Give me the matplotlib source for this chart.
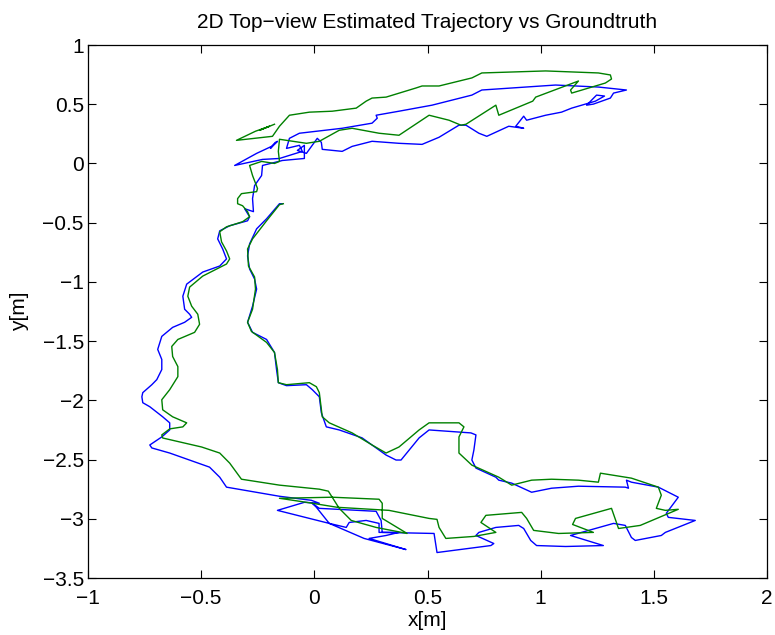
import numpy as np
import matplotlib
matplotlib.use('Agg')
import matplotlib.pyplot as plt

######################################
# groundtruth trajectory (green)
gt_x = [-0.176, -0.242, -0.198, -0.260, -0.344, -0.264, -0.185, -0.154, -0.110, -0.022,
        0.079, 0.185, 0.229, 0.255, 0.317, 0.449, 0.476, 0.551, 0.696, 0.740,
        1.022, 1.255, 1.308, 1.313, 1.286, 1.137, 1.132, 1.167, 0.978, 0.965,
        0.815, 0.802, 0.670, 0.648, 0.595, 0.507, 0.374, 0.286, 0.167, 0.110,
        0.022, -0.035, -0.154, -0.159, -0.154, -0.176, -0.233, -0.286, -0.273, -0.251,
        -0.255, -0.322, -0.339, -0.339, -0.317, -0.295, -0.286, -0.317, -0.388, -0.418,
        -0.410, -0.388, -0.374, -0.388, -0.493, -0.551, -0.559, -0.542, -0.515, -0.507,
        -0.529, -0.603, -0.630, -0.626, -0.603, -0.603, -0.639, -0.674, -0.670, -0.626,
        -0.564, -0.581, -0.639, -0.674, -0.670, -0.498, -0.418, -0.374, -0.322, -0.154,
        0.022, 0.062, 0.110, 0.163, 0.273, 0.410, 0.300, 0.300, 0.286, 0.079,
        -0.154, -0.035, 0.101, 0.330, 0.507, 0.542, 0.551, 0.581, 0.705, 0.802,
        0.736, 0.758, 0.916, 0.938, 0.969, 1.079, 1.233, 1.141, 1.154, 1.313,
        1.344, 1.440, 1.608, 1.551, 1.511, 1.533, 1.520, 1.401, 1.264, 1.255,
        1.167, 1.048, 0.960, 0.872, 0.815, 0.696, 0.639, 0.639, 0.661, 0.639,
        0.507, 0.463, 0.374, 0.317, 0.255, 0.167, 0.066, 0.035, 0.022, 0.009,
        -0.022, -0.123, -0.159, -0.163, -0.176, -0.211, -0.278, -0.295, -0.273, -0.260,
        -0.264, -0.291, -0.295, -0.273, -0.211, -0.154, -0.137]
gt_y = [0.331, 0.280, 0.314, 0.272, 0.195, 0.212, 0.229, 0.314, 0.407, 0.433,
        0.441, 0.467, 0.526, 0.552, 0.560, 0.637, 0.654, 0.654, 0.722, 0.764,
        0.781, 0.764, 0.747, 0.713, 0.679, 0.594, 0.620, 0.696, 0.560, 0.526,
        0.407, 0.492, 0.331, 0.323, 0.365, 0.407, 0.238, 0.255, 0.297, 0.280,
        0.187, 0.170, 0.204, 0.102, 0.017, 0.000, 0.017, -0.017, -0.102, -0.212,
        -0.238, -0.255, -0.297, -0.340, -0.357, -0.407, -0.450, -0.492, -0.535, -0.577,
        -0.662, -0.739, -0.806, -0.849, -0.951, -1.044, -1.121, -1.205, -1.273, -1.358,
        -1.426, -1.486, -1.545, -1.630, -1.715, -1.800, -1.910, -1.995, -2.080, -2.139,
        -2.190, -2.224, -2.241, -2.292, -2.318, -2.394, -2.445, -2.530, -2.666, -2.716,
        -2.750, -2.767, -2.912, -3.014, -3.073, -3.124, -2.997, -2.869, -2.835, -2.818,
        -2.827, -2.861, -2.903, -2.929, -2.997, -3.005, -3.073, -3.166, -3.149, -3.115,
        -3.031, -2.971, -2.946, -2.997, -3.098, -3.124, -3.115, -3.048, -2.997, -2.912,
        -3.082, -3.056, -2.920, -2.929, -2.912, -2.801, -2.733, -2.657, -2.615, -2.691,
        -2.674, -2.666, -2.674, -2.716, -2.649, -2.547, -2.445, -2.309, -2.224, -2.190,
        -2.190, -2.250, -2.394, -2.445, -2.377, -2.275, -2.190, -2.139, -1.935, -1.885,
        -1.851, -1.868, -1.851, -1.740, -1.596, -1.511, -1.418, -1.341, -1.231, -1.061,
        -0.959, -0.866, -0.722, -0.637, -0.484, -0.348, -0.340]

# estimated trajectory (blue)
est_x = [-0.172, -0.194, -0.163, -0.189, -0.255, -0.352, -0.229, -0.154, -0.053, -0.066,
         -0.123, -0.110, -0.066, 0.123, 0.255, 0.278, 0.273, 0.374, 0.520, 0.696,
         0.740, 1.066, 1.255, 1.379, 1.322, 1.308, 1.233, 1.203, 1.247, 1.282,
         1.242, 1.137, 1.092, 1.022, 0.938, 0.925, 0.890, 0.925, 0.859, 0.762,
         0.727, 0.670, 0.639, 0.551, 0.476, 0.374, 0.255, 0.167, 0.123, 0.035,
         0.031, 0.013, -0.035, -0.075, -0.044, -0.044, -0.141, -0.229, -0.233, -0.264,
         -0.273, -0.269, -0.308, -0.286, -0.295, -0.374, -0.418, -0.427, -0.405, -0.388,
         -0.418, -0.493, -0.564, -0.581, -0.573, -0.551, -0.542, -0.573, -0.626, -0.674,
         -0.692, -0.674, -0.674, -0.696, -0.718, -0.758, -0.762, -0.758, -0.727, -0.670,
         -0.639, -0.639, -0.674, -0.727, -0.718, -0.639, -0.463, -0.418, -0.388, -0.154,
         -0.013, 0.022, -0.044, -0.163, 0.066, 0.220, 0.405, 0.242, 0.317, 0.374,
         0.286, 0.286, 0.229, 0.154, 0.141, 0.066, 0.009, -0.009, 0.022, 0.273,
         0.295, 0.300, 0.529, 0.542, 0.780, 0.793, 0.714, 0.727, 0.802, 0.903,
         0.925, 0.956, 0.982, 1.110, 1.277, 1.132, 1.322, 1.374, 1.401, 1.418,
         1.533, 1.551, 1.683, 1.564, 1.555, 1.608, 1.520, 1.401, 1.379, 1.388,
         1.374, 1.167, 1.048, 0.960, 0.872, 0.815, 0.802, 0.714, 0.696, 0.705,
         0.714, 0.692, 0.507, 0.463, 0.383, 0.361, 0.317, 0.211, 0.110, 0.053,
         0.031, 0.022, -0.009, -0.035, -0.123, -0.159, -0.167, -0.176, -0.211, -0.273,
         -0.295, -0.273, -0.255, -0.264, -0.286, -0.295, -0.286, -0.255, -0.211, -0.154,
         -0.141]
est_y = [0.178, 0.127, 0.187, 0.144, 0.085, -0.017, 0.034, 0.042, 0.102, 0.153,
         0.127, 0.212, 0.255, 0.297, 0.340, 0.382, 0.407, 0.441, 0.492, 0.577,
         0.620, 0.662, 0.645, 0.620, 0.594, 0.552, 0.501, 0.492, 0.577, 0.569,
         0.526, 0.467, 0.433, 0.407, 0.365, 0.399, 0.314, 0.297, 0.314, 0.229,
         0.255, 0.323, 0.323, 0.221, 0.161, 0.170, 0.187, 0.144, 0.102, 0.119,
         0.178, 0.212, 0.085, 0.110, 0.153, 0.042, 0.025, -0.017, -0.102, -0.187,
         -0.297, -0.407, -0.382, -0.450, -0.484, -0.526, -0.569, -0.637, -0.722, -0.806,
         -0.866, -0.917, -1.019, -1.121, -1.231, -1.273, -1.299, -1.341, -1.384, -1.460,
         -1.570, -1.655, -1.740, -1.825, -1.868, -1.935, -1.970, -2.020, -2.054, -2.139,
         -2.190, -2.250, -2.309, -2.377, -2.402, -2.445, -2.564, -2.649, -2.733, -2.810,
         -2.844, -2.869, -2.861, -2.929, -3.039, -3.166, -3.260, -3.166, -3.141, -3.115,
         -3.115, -3.039, -3.014, -3.031, -3.073, -3.039, -2.903, -2.869, -2.912, -2.937,
         -3.014, -3.115, -3.124, -3.285, -3.226, -3.209, -3.141, -3.115, -3.073, -3.056,
         -3.082, -3.183, -3.226, -3.234, -3.226, -3.141, -3.039, -3.056, -3.158, -3.183,
         -3.141, -3.115, -3.014, -2.988, -2.954, -2.818, -2.733, -2.691, -2.674, -2.742,
         -2.733, -2.725, -2.742, -2.776, -2.699, -2.674, -2.649, -2.572, -2.504, -2.419,
         -2.292, -2.275, -2.250, -2.317, -2.504, -2.504, -2.462, -2.317, -2.250, -2.224,
         -2.105, -1.970, -1.910, -1.868, -1.876, -1.851, -1.740, -1.596, -1.486, -1.426,
         -1.341, -1.205, -1.061, -0.976, -0.891, -0.781, -0.679, -0.552, -0.467, -0.340,
         -0.340]

x_ticks = [-1, -0.5, 0, 0.5, 1, 1.5, 2]
y_ticks = [-3.5, -3, -2.5, -2, -1.5, -1, -0.5, 0, 0.5, 1]
######################################

plt.rcParams['font.family'] = ['Liberation Sans', 'DejaVu Sans']
plt.rcParams['font.size'] = 15

fig = plt.figure(figsize=(7.75, 6.35), dpi=100)
ax = fig.add_axes([88/775, 57/635, 679/775, 533/635])

ax.plot(est_x, est_y, color=(0, 0, 1), lw=1.0)
ax.plot(gt_x, gt_y, color=(0, 0.5, 0), lw=1.0)

ax.set_xlim(-1, 2)
ax.set_ylim(-3.5, 1)
ax.set_xticks(x_ticks)
ax.set_yticks(y_ticks)
ax.set_xticklabels([('%g' % t).replace('-', '\u2212') for t in x_ticks])
ax.set_yticklabels([('%g' % t).replace('-', '\u2212') for t in y_ticks])
ax.tick_params(direction='in', top=True, right=True, length=6, width=0.8)
ax.tick_params(axis='x', pad=8)
ax.tick_params(axis='y', pad=3)
for s in ax.spines.values():
    s.set_linewidth(0.9)

ax.set_title('2D Top\u2212view Estimated Trajectory vs Groundtruth', fontsize=15, pad=12)
ax.set_xlabel('x[m]', labelpad=2)
ax.set_ylabel('y[m]', labelpad=10)

fig.savefig('out.png', dpi=100)
